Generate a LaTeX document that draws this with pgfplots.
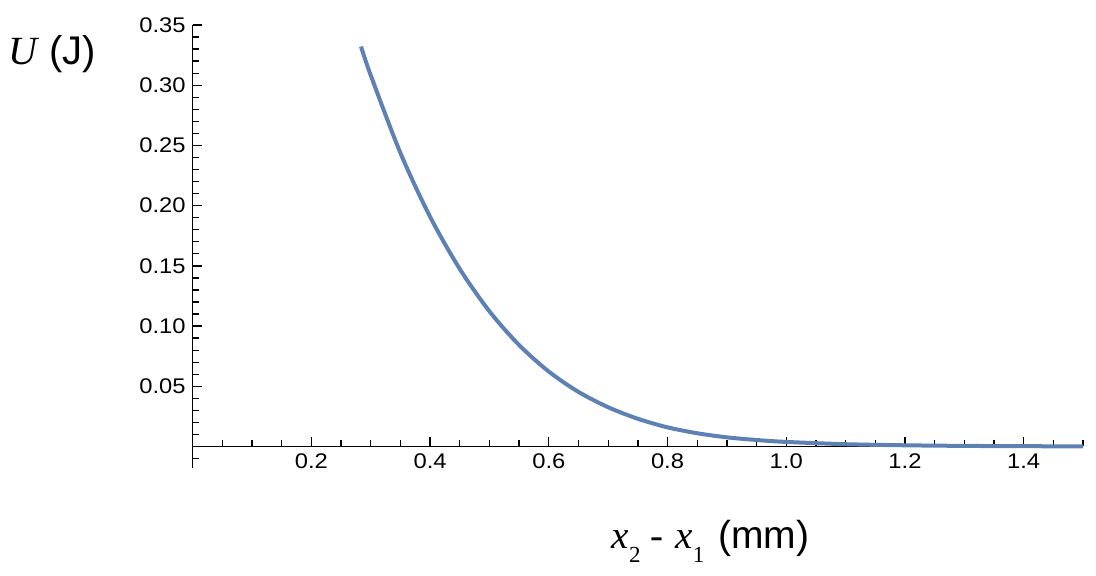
\documentclass[border=0pt]{standalone}
\usepackage{fontspec}
\setmainfont{Liberation Sans}
\newfontfamily\tnr{Liberation Serif}
\newfontfamily\ticksf{Liberation Sans}[FakeStretch=1.12]
\usepackage{pgfplots}
\pgfplotsset{compat=1.18}
\definecolor{mmablue}{HTML}{5E81B5}

\pgfplotstableread{
x      U
0.2836 0.3321
0.30   0.3082
0.35   0.2437
0.40   0.1907
0.45   0.1474
0.50   0.1122
0.55   0.0842
0.60   0.0622
0.65   0.0453
0.70   0.0326
0.75   0.0230
0.80   0.0159
0.85   0.0110
0.90   0.0076
0.95   0.0054
1.00   0.0038
1.10   0.0019
1.20   0.0010
1.30   0.0005
1.40   0.00025
1.50   0.00013
}\energy

\begin{document}
\begin{tikzpicture}
\path[use as bounding box] (-96.35pt,-53.85pt) rectangle (451.65pt,234.15pt);
\begin{axis}[
  scale only axis,
  width=445.15pt, height=221.65pt,
  xmin=0, xmax=1.5, ymin=-0.0181, ymax=0.35,
  axis lines=middle,
  axis line style={-, line width=0.75pt, black},
  tick style={black, line width=0.65pt},
  tick align=inside,
  major tick length=4.6pt,
  minor tick length=3.1pt,
  xtick={0.2,0.4,0.6,0.8,1.0,1.2,1.4},
  minor xtick={0.05,0.1,0.15,0.25,0.3,0.35,0.45,0.5,0.55,0.65,0.7,0.75,0.85,0.9,0.95,1.05,1.1,1.15,1.25,1.3,1.35,1.45,1.5},
  ytick={0.05,0.10,0.15,0.20,0.25,0.30,0.35},
  minor ytick={-0.01,0.01,0.02,0.03,0.04,0.06,0.07,0.08,0.09,0.11,0.12,0.13,0.14,0.16,0.17,0.18,0.19,0.21,0.22,0.23,0.24,0.26,0.27,0.28,0.29,0.31,0.32,0.33,0.34},
  xticklabel style={/pgf/number format/fixed, /pgf/number format/fixed zerofill, /pgf/number format/precision=1},
  yticklabel style={/pgf/number format/fixed, /pgf/number format/fixed zerofill, /pgf/number format/precision=2},
  /pgf/number format/assume math mode=true,
  tick label style={font=\ticksf\fontsize{10.6}{12}\selectfont},
  xlabel={{\tnr\itshape x}\raisebox{-6.8pt}{\tnr\fontsize{11.5}{11}\selectfont 2}\hspace{5pt}{\tnr -}\hspace{6pt}{\tnr\itshape x}\raisebox{-6.8pt}{\tnr\fontsize{11.5}{11}\selectfont 1}\hspace{7pt}(mm)},
  xlabel style={at={(rel axis cs:0.5816,-0.182)}, anchor=base, font=\fontsize{19.5}{21}\selectfont},
  ylabel={{\tnr\itshape U}\hspace{6pt}(J)},
  ylabel style={at={(rel axis cs:-0.1578,0.912)}, anchor=base, rotate=0, font=\fontsize{20}{22}\selectfont},
]
\addplot[mmablue, line width=2pt, smooth, tension=0.5] table[x=x, y=U] {\energy};
\end{axis}
\end{tikzpicture}
\end{document}
